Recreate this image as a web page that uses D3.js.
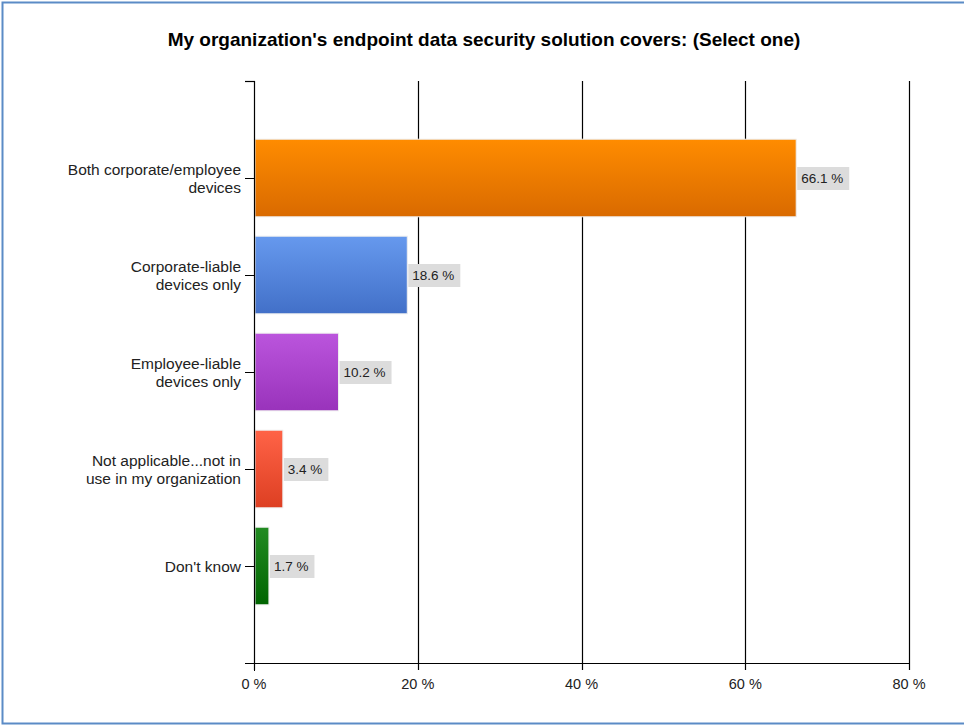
<!DOCTYPE html>
<html><head><meta charset="utf-8">
<script src="https://cdn.jsdelivr.net/npm/d3@7"></script>
<style>body{margin:0;background:#fff;}svg{display:block;font-family:"Liberation Sans",Arial,sans-serif;}</style>
</head><body>
<script>
const categories = ["Both corporate/employee devices","Corporate-liable devices only","Employee-liable devices only","Not applicable...not in use in my organization","Don't know"];
const labelLines = [["Both corporate/employee","devices"],["Corporate-liable","devices only"],["Employee-liable","devices only"],["Not applicable...not in","use in my organization"],["Don't know"]];
const values = [66.1, 18.6, 10.2, 3.4, 1.7];
const colorsTop = ["#ff8c00","#6699ee","#bb55dd","#ff6347","#228b22"];
const colorsBottom = ["#d96a00","#4270c8","#9933bb","#dd3f22","#006400"];
const xTicks = [0,20,40,60,80];
const title = "My organization's endpoint data security solution covers: (Select one)";

const W=964,H=725;
const svg=d3.select("body").append("svg").attr("width",W).attr("height",H);
svg.append("rect").attr("x",2.5).attr("y",2.5).attr("width",W+10).attr("height",H-4).attr("fill","none").attr("stroke","#5b8bc6").attr("stroke-width",2);

svg.append("text").attr("x",484).attr("y",46).attr("text-anchor","middle").attr("font-size",19).attr("font-weight","bold").attr("fill","#000").text(title);

const x=d3.scaleLinear().domain([0,80]).range([254,909]);
const y=d3.scaleBand().domain(categories).range([81,663]).paddingInner(0.2).paddingOuter(0.6);

const defs=svg.append("defs");
categories.forEach((c,i)=>{
  const g=defs.append("linearGradient").attr("id","g"+i).attr("x1",0).attr("y1",0).attr("x2",0).attr("y2",1);
  g.append("stop").attr("offset","0%").attr("stop-color",colorsTop[i]);
  g.append("stop").attr("offset","100%").attr("stop-color",colorsBottom[i]);
});

const grid=svg.append("g");
xTicks.slice(1).forEach(t=>{
  grid.append("line").attr("x1",Math.round(x(t))+0.5).attr("x2",Math.round(x(t))+0.5).attr("y1",81).attr("y2",670).attr("stroke","#000").attr("stroke-width",1.2);
});

svg.selectAll("rect.bar").data(values).enter().append("rect").attr("class","bar")
 .attr("x",x(0)+1).attr("y",(d,i)=>y(categories[i]))
 .attr("width",d=>x(d)-x(0)).attr("height",y.bandwidth())
 .attr("fill",(d,i)=>"url(#g"+i+")").attr("stroke","#eee").attr("stroke-width",1);

values.forEach((v,i)=>{
  const cy=y(categories[i])+y.bandwidth()/2;
  const txt=v.toFixed(1)+" %";
  const g=svg.append("g");
  const t=g.append("text").attr("x",x(v)+6).attr("y",cy+5).attr("font-size",13.5).attr("fill","#222").text(txt);
  const w=t.node().getComputedTextLength();
  g.insert("rect","text").attr("x",x(v)+2).attr("y",cy-11).attr("width",w+10).attr("height",23).attr("fill","#dcdcdc");
});

svg.append("line").attr("x1",254.5).attr("x2",254.5).attr("y1",81).attr("y2",670).attr("stroke","#000").attr("stroke-width",1.2);
svg.append("line").attr("x1",245).attr("x2",255).attr("y1",81.5).attr("y2",81.5).attr("stroke","#000").attr("stroke-width",1.2);
categories.forEach((c,i)=>{
  const cy=y(c)+y.bandwidth()/2;
  svg.append("line").attr("x1",245).attr("x2",254).attr("y1",Math.round(cy)+0.5).attr("y2",Math.round(cy)+0.5).attr("stroke","#000");
  const lines=labelLines[i];
  const t=svg.append("text").attr("text-anchor","end").attr("font-size",15.5).attr("fill","#222");
  lines.forEach((l,j)=>{
    t.append("tspan").attr("x",241).attr("y",cy+5.5+(j-(lines.length-1)/2)*18).text(l);
  });
});
svg.append("line").attr("x1",245).attr("x2",910).attr("y1",663.5).attr("y2",663.5).attr("stroke","#000").attr("stroke-width",1.2);
svg.append("line").attr("x1",254.5).attr("x2",254.5).attr("y1",663).attr("y2",671).attr("stroke","#000");
xTicks.forEach(t=>{
  svg.append("text").attr("x",x(t)).attr("y",689).attr("text-anchor","middle").attr("font-size",14.5).attr("fill","#222").text(t+" %");
});
</script>
</body></html>
